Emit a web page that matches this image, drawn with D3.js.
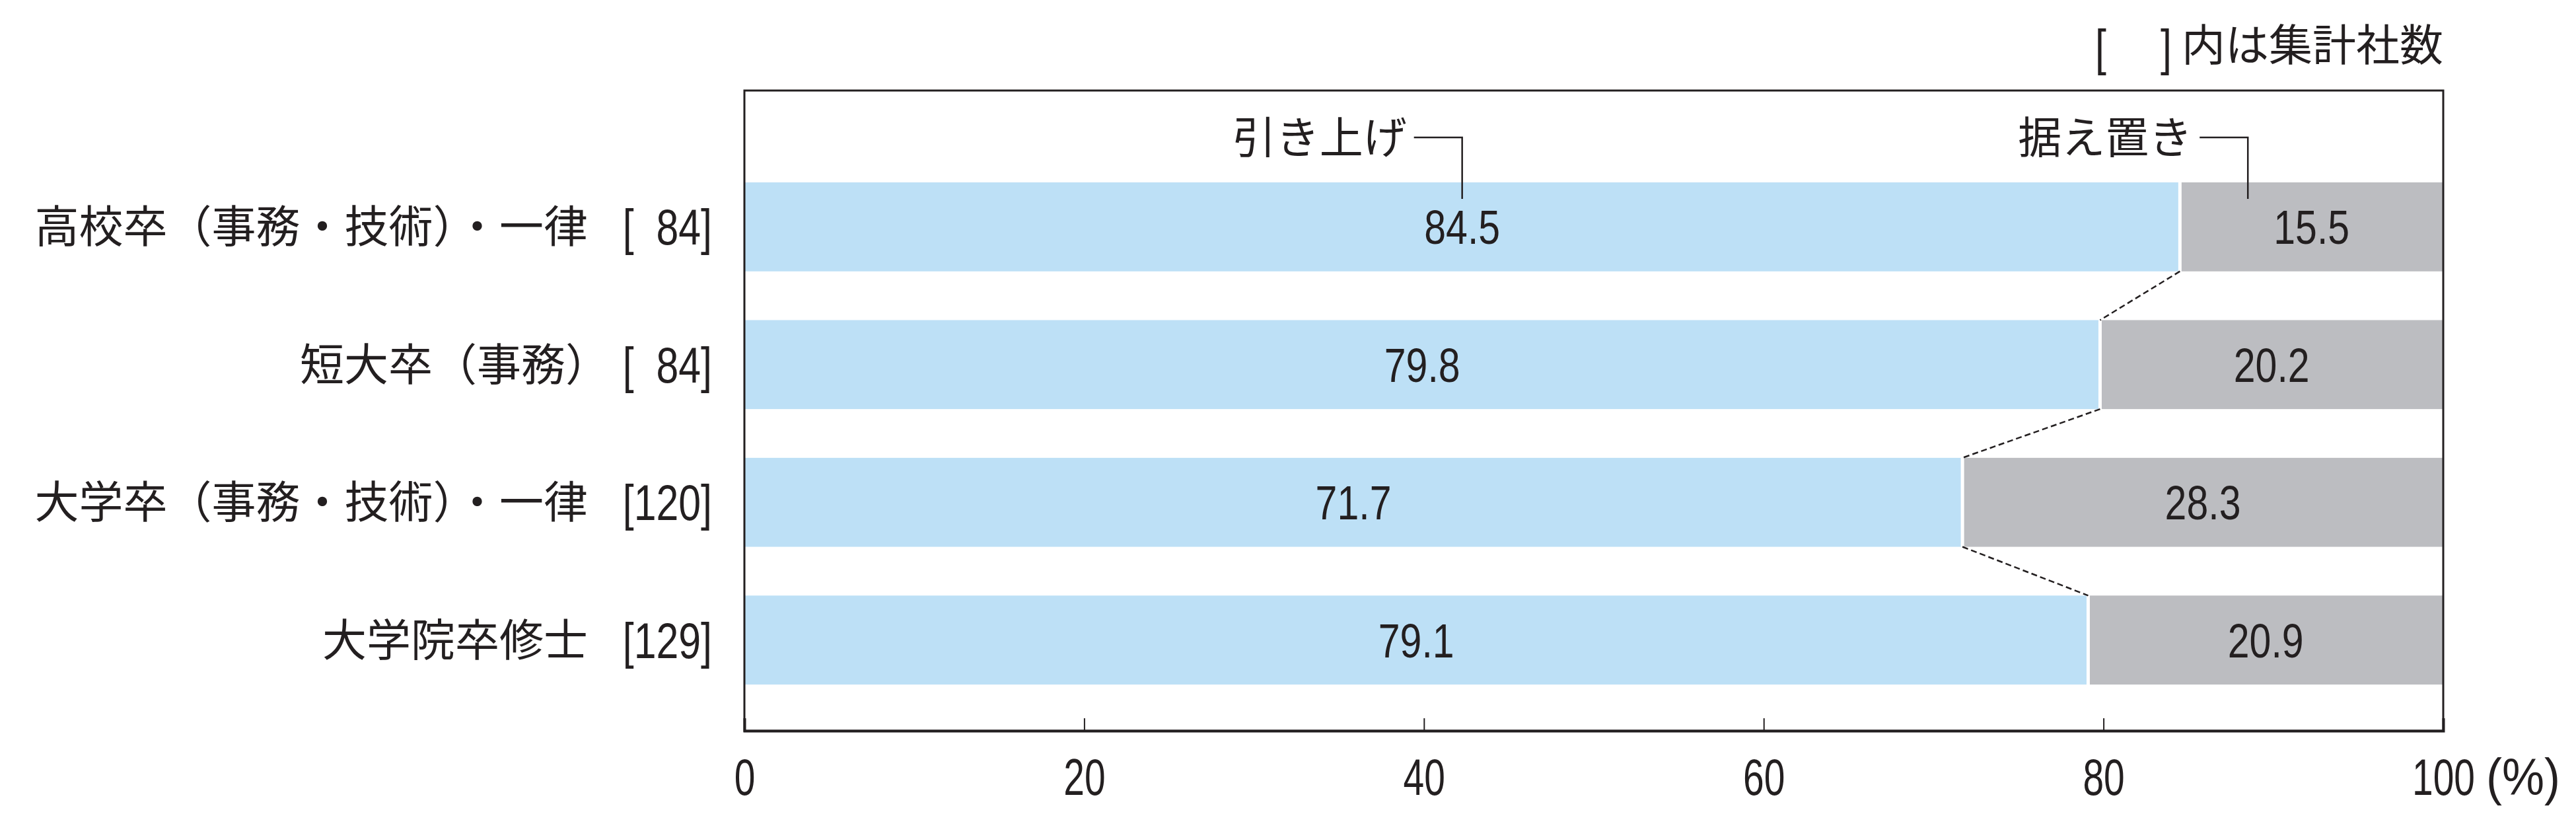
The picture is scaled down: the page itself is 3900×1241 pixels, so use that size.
<!DOCTYPE html>
<html>
<head>
<meta charset="utf-8">
<script src="https://cdn.jsdelivr.net/npm/d3@7"></script>
<style>
  html, body { margin: 0; padding: 0; background: #ffffff; }
  svg { display: block; }
</style>
</head>
<body>
<div id="chart"></div>
<script>
// ---- data ----
const categories = ["高校卒（事務・技術）・一律", "短大卒（事務）", "大学卒（事務・技術）・一律", "大学院卒修士"];
const companyCounts = [84, 84, 120, 129];
const raised = [84.5, 79.8, 71.7, 79.1];     // 引き上げ
const frozen = [15.5, 20.2, 28.3, 20.9];     // 据え置き
const seriesNames = ["引き上げ", "据え置き"];
const xTicks = [0, 20, 40, 60, 80, 100];
const noteText = "内は集計社数";
const unitText = "(%)";

(function () {
// ---- layout ----
const W = 3900, H = 1241;
const pL = 1127, pR = 3699, pT = 137, pB = 1106;
const ink = "#231f20";
const blue = "#bde0f6";
const gray = "#bcbdc1";
const cjk = "'Noto Sans CJK JP', 'Noto Sans CJK SC', sans-serif";
const latin = "'Liberation Sans', Arial, sans-serif";

const svg = d3.select("#chart").append("svg")
  .attr("width", W).attr("height", H)
  .attr("viewBox", `0 0 ${W} ${H}`);

const x = d3.scaleLinear().domain([0, 100]).range([pL, pR]);
const y = d3.scaleBand().domain(categories).range([206, pB])
  .paddingInner(0.354).paddingOuter(0.336);

const rows = categories.map((c, i) => ({ cat: c, n: companyCounts[i], r: raised[i], f: frozen[i] }));
const yc = d => y(d.cat) + y.bandwidth() / 2;

// condensed latin text helper
function narrowText(g, px, py, str, size, sx, anchor) {
  return g.append("text")
    .attr("transform", `translate(${px},${py}) scale(${sx},1)`)
    .attr("text-anchor", anchor || "middle")
    .attr("font-family", latin).attr("font-size", size).attr("fill", ink)
    .text(str);
}

// bars: raised (blue)
svg.append("g").selectAll("rect").data(rows).join("rect")
  .attr("x", x(0))
  .attr("y", d => y(d.cat))
  .attr("width", d => x(d.r) - x(0))
  .attr("height", y.bandwidth())
  .attr("fill", blue);

// bars: frozen (gray)
svg.append("g").selectAll("rect").data(rows).join("rect")
  .attr("x", d => x(d.r))
  .attr("y", d => y(d.cat))
  .attr("width", d => x(d.r + d.f) - x(d.r))
  .attr("height", y.bandwidth())
  .attr("fill", gray);

// white separators
svg.append("g").selectAll("line").data(rows).join("line")
  .attr("x1", d => x(d.r)).attr("x2", d => x(d.r))
  .attr("y1", d => y(d.cat)).attr("y2", d => y(d.cat) + y.bandwidth())
  .attr("stroke", "#ffffff").attr("stroke-width", 5);

// dashed connectors
const pairs = d3.pairs(rows);
svg.append("g").selectAll("line").data(pairs).join("line")
  .attr("x1", d => x(d[0].r)).attr("y1", d => y(d[0].cat) + y.bandwidth())
  .attr("x2", d => x(d[1].r)).attr("y2", d => y(d[1].cat))
  .attr("stroke", ink).attr("stroke-width", 2.5)
  .attr("stroke-dasharray", "9,5");

// value labels
const vg = svg.append("g");
rows.forEach(d => {
  narrowText(vg, (x(0) + x(d.r)) / 2, yc(d) + 26, d.r.toFixed(1), 72, 0.82);
  narrowText(vg, (x(d.r) + x(d.r + d.f)) / 2, yc(d) + 26, d.f.toFixed(1), 72, 0.82);
});

// category labels
const lg = svg.append("g");
rows.forEach(d => {
  narrowText(lg, 1078, yc(d) + 27, "[" + (d.n < 100 ? "\u2007" : "") + d.n + "]", 76, 0.8, "end");
  lg.append("text")
    .attr("x", 890 + (d.cat.endsWith("）") ? 33 : 0)).attr("y", yc(d) + 24)
    .attr("text-anchor", "end")
    .attr("font-family", cjk).attr("font-size", 67).attr("fill", ink)
    .text(d.cat);
});

// frame
svg.append("rect")
  .attr("x", pL).attr("y", pT)
  .attr("width", pR - pL).attr("height", pB - pT)
  .attr("fill", "none").attr("stroke", ink).attr("stroke-width", 3);

// x axis
const axis = svg.append("g")
  .attr("transform", `translate(0,${pB})`)
  .call(d3.axisBottom(x).tickValues(xTicks).tickSize(-19).tickPadding(42).tickFormat(d3.format("d")));
axis.select(".domain").attr("stroke", ink).attr("stroke-width", 4);
axis.selectAll(".tick line").attr("stroke", ink).attr("stroke-width", 2);
axis.selectAll(".tick text")
  .attr("font-family", latin).attr("font-size", 77).attr("fill", ink)
  .attr("transform", "scale(0.74,1)");

svg.append("text")
  .attr("x", 3764).attr("y", 1203)
  .attr("font-family", latin).attr("font-size", 77).attr("fill", ink)
  .attr("textLength", 112).attr("lengthAdjust", "spacingAndGlyphs")
  .text(unitText);

// note top right
svg.append("text")
  .attr("x", pR).attr("y", 92)
  .attr("text-anchor", "end")
  .attr("font-family", cjk).attr("font-size", 66).attr("fill", ink)
  .text(noteText);
narrowText(svg, 3172, 98, "[", 76, 0.8, "start");
narrowText(svg, 3288, 98, "]", 76, 0.8, "end");

// series annotations with leader lines
const first = rows[0];
const annY = 208;
const leaderBottom = y(first.cat) + 25;
const ann = [
  { name: seriesNames[0], ax: x(first.r / 2) },
  { name: seriesNames[1], ax: x(first.r + 4) }
];
ann.forEach(a => {
  svg.append("path")
    .attr("d", `M${a.ax - 73},${annY}H${a.ax}V${leaderBottom}`)
    .attr("fill", "none").attr("stroke", ink).attr("stroke-width", 2.5);
  svg.append("text")
    .attr("x", a.ax - 84).attr("y", annY + 24)
    .attr("text-anchor", "end")
    .attr("font-family", cjk).attr("font-size", 66).attr("fill", ink)
    .text(a.name);
});
})();
</script>
</body>
</html>
